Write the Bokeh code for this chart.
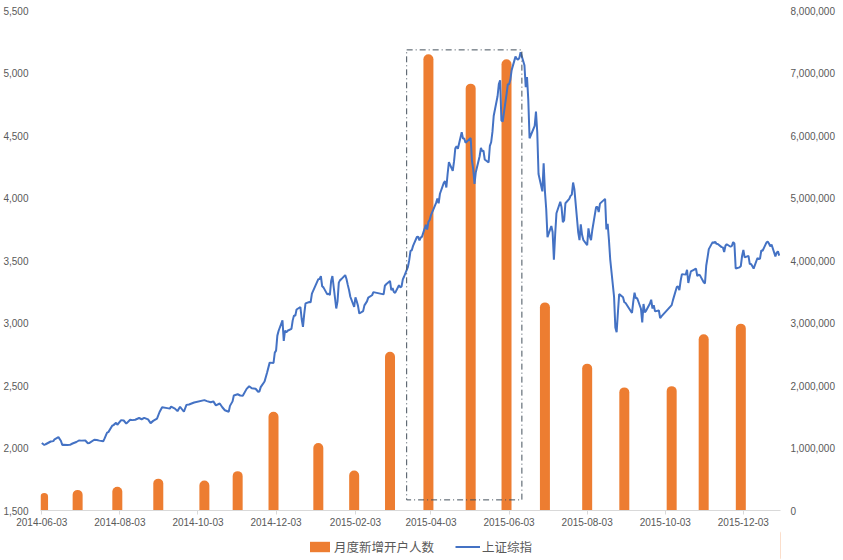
import datetime as dt
import pandas as pd
from bokeh.plotting import figure
from bokeh.layouts import column
from bokeh.models import (ColumnDataSource, Range1d, LinearAxis, NumeralTickFormatter,
                          FixedTicker, DatetimeTickFormatter, BoxAnnotation, Legend, LegendItem)
from bokeh.embed import file_html
from bokeh.resources import INLINE

# ---------------- data ----------------
bar_dates = ["2014-06-04", "2014-07-01", "2014-08-01", "2014-09-02", "2014-10-08", "2014-11-03",
             "2014-12-01", "2015-01-05", "2015-02-02", "2015-03-02", "2015-04-01", "2015-05-04",
             "2015-06-01", "2015-07-01", "2015-08-03", "2015-09-01", "2015-10-08", "2015-11-02",
             "2015-12-01"]
new_accounts = [280000, 330000, 380000, 510000, 480000, 630000,
                1580000, 1080000, 640000, 2540000, 7300000, 6830000,
                7220000, 3330000, 2350000, 1970000, 1990000, 2820000,
                2990000]

sse_dates = [
    "2014-06-03", "2014-06-05", "2014-06-06", "2014-06-10", "2014-06-12", "2014-06-13", "2014-06-16",
    "2014-06-18", "2014-06-19", "2014-06-20", "2014-06-23", "2014-06-25", "2014-06-27", "2014-06-30",
    "2014-07-02", "2014-07-04", "2014-07-07", "2014-07-09", "2014-07-10", "2014-07-14", "2014-07-16",
    "2014-07-18", "2014-07-21", "2014-07-22", "2014-07-24", "2014-07-25", "2014-07-28", "2014-07-29",
    "2014-07-31", "2014-08-01", "2014-08-04", "2014-08-06", "2014-08-08", "2014-08-11", "2014-08-13",
    "2014-08-15", "2014-08-18", "2014-08-20", "2014-08-22", "2014-08-25", "2014-08-27", "2014-08-29",
    "2014-09-01", "2014-09-03", "2014-09-05", "2014-09-09", "2014-09-11", "2014-09-12", "2014-09-15",
    "2014-09-17", "2014-09-19", "2014-09-22", "2014-09-24", "2014-09-26", "2014-09-30",
    "2014-10-08", "2014-10-10", "2014-10-13", "2014-10-15", "2014-10-17", "2014-10-20", "2014-10-22",
    "2014-10-24", "2014-10-27", "2014-10-28", "2014-10-30", "2014-10-31",
    "2014-11-03", "2014-11-05", "2014-11-07", "2014-11-10", "2014-11-12", "2014-11-14", "2014-11-17",
    "2014-11-19", "2014-11-20", "2014-11-21", "2014-11-24", "2014-11-26", "2014-11-28",
    "2014-12-01", "2014-12-02", "2014-12-03", "2014-12-04", "2014-12-05", "2014-12-08", "2014-12-09",
    "2014-12-10", "2014-12-11", "2014-12-12", "2014-12-15", "2014-12-16", "2014-12-17", "2014-12-18",
    "2014-12-19", "2014-12-22", "2014-12-23", "2014-12-24", "2014-12-25", "2014-12-26", "2014-12-29",
    "2014-12-30", "2014-12-31",
    "2015-01-05", "2015-01-06", "2015-01-07", "2015-01-08", "2015-01-09", "2015-01-12", "2015-01-13",
    "2015-01-14", "2015-01-15", "2015-01-16", "2015-01-19", "2015-01-20", "2015-01-21", "2015-01-22",
    "2015-01-23", "2015-01-26", "2015-01-27", "2015-01-28", "2015-01-29", "2015-01-30",
    "2015-02-02", "2015-02-03", "2015-02-04", "2015-02-05", "2015-02-06", "2015-02-09", "2015-02-10",
    "2015-02-11", "2015-02-12", "2015-02-13", "2015-02-16", "2015-02-17", "2015-02-25", "2015-02-26",
    "2015-02-27",
    "2015-03-02", "2015-03-03", "2015-03-04", "2015-03-05", "2015-03-06", "2015-03-09", "2015-03-10",
    "2015-03-11", "2015-03-12", "2015-03-13", "2015-03-16", "2015-03-17", "2015-03-18", "2015-03-19",
    "2015-03-20", "2015-03-23", "2015-03-24", "2015-03-25", "2015-03-26", "2015-03-27", "2015-03-30",
    "2015-03-31",
    "2015-04-01", "2015-04-02", "2015-04-03", "2015-04-07", "2015-04-08", "2015-04-09", "2015-04-10",
    "2015-04-13", "2015-04-14", "2015-04-15", "2015-04-16", "2015-04-17", "2015-04-20", "2015-04-21",
    "2015-04-22", "2015-04-23", "2015-04-24", "2015-04-27", "2015-04-28", "2015-04-29", "2015-04-30",
    "2015-05-04", "2015-05-05", "2015-05-06", "2015-05-07", "2015-05-08", "2015-05-11", "2015-05-12",
    "2015-05-13", "2015-05-14", "2015-05-15", "2015-05-18", "2015-05-19", "2015-05-20", "2015-05-21",
    "2015-05-22", "2015-05-25", "2015-05-26", "2015-05-27", "2015-05-28", "2015-05-29",
    "2015-06-01", "2015-06-02", "2015-06-03", "2015-06-04", "2015-06-05", "2015-06-08", "2015-06-09",
    "2015-06-10", "2015-06-11", "2015-06-12", "2015-06-15", "2015-06-16", "2015-06-17", "2015-06-18",
    "2015-06-19", "2015-06-23", "2015-06-24", "2015-06-25", "2015-06-26", "2015-06-29", "2015-06-30",
    "2015-07-01", "2015-07-02", "2015-07-03", "2015-07-06", "2015-07-07", "2015-07-08", "2015-07-09",
    "2015-07-10", "2015-07-13", "2015-07-14", "2015-07-15", "2015-07-16", "2015-07-17", "2015-07-20",
    "2015-07-21", "2015-07-22", "2015-07-23", "2015-07-24", "2015-07-27", "2015-07-28", "2015-07-29",
    "2015-07-30", "2015-07-31",
    "2015-08-03", "2015-08-04", "2015-08-05", "2015-08-06", "2015-08-07", "2015-08-10", "2015-08-11",
    "2015-08-12", "2015-08-13", "2015-08-14", "2015-08-17", "2015-08-18", "2015-08-19", "2015-08-20",
    "2015-08-21", "2015-08-24", "2015-08-25", "2015-08-26", "2015-08-27", "2015-08-28", "2015-08-31",
    "2015-09-01", "2015-09-02", "2015-09-07", "2015-09-08", "2015-09-09", "2015-09-10", "2015-09-11",
    "2015-09-14", "2015-09-15", "2015-09-16", "2015-09-17", "2015-09-18", "2015-09-21", "2015-09-22",
    "2015-09-23", "2015-09-24", "2015-09-25", "2015-09-28", "2015-09-29", "2015-09-30",
    "2015-10-08", "2015-10-09", "2015-10-12", "2015-10-13", "2015-10-14", "2015-10-15", "2015-10-16",
    "2015-10-19", "2015-10-20", "2015-10-21", "2015-10-22", "2015-10-23", "2015-10-26", "2015-10-27",
    "2015-10-28", "2015-10-29", "2015-10-30",
    "2015-11-02", "2015-11-03", "2015-11-04", "2015-11-05", "2015-11-06", "2015-11-09", "2015-11-10",
    "2015-11-11", "2015-11-12", "2015-11-13", "2015-11-16", "2015-11-17", "2015-11-18", "2015-11-19",
    "2015-11-20", "2015-11-23", "2015-11-24", "2015-11-25", "2015-11-26", "2015-11-27", "2015-11-30",
    "2015-12-01", "2015-12-02", "2015-12-03", "2015-12-04", "2015-12-07", "2015-12-08", "2015-12-09",
    "2015-12-10", "2015-12-11", "2015-12-14", "2015-12-15", "2015-12-16", "2015-12-17", "2015-12-18",
    "2015-12-21", "2015-12-22", "2015-12-23", "2015-12-24", "2015-12-25", "2015-12-28", "2015-12-29",
    "2015-12-30", "2015-12-31",
]
sse_close = [
    2040, 2024, 2030, 2052, 2055, 2070, 2087,
    2056, 2024, 2026, 2024, 2025, 2036, 2048,
    2060, 2059, 2060, 2038, 2039, 2066, 2064,
    2059, 2054, 2075, 2123, 2127, 2178, 2183,
    2201, 2186, 2223, 2220, 2195, 2226, 2223,
    2226, 2240, 2230, 2241, 2229, 2199, 2217,
    2235, 2288, 2326, 2319, 2315, 2331, 2315,
    2295, 2330, 2290, 2345, 2348, 2364,
    2383, 2375, 2366, 2373, 2341, 2356, 2326,
    2302, 2290, 2337, 2373, 2420,
    2430, 2420, 2418, 2473, 2494, 2478, 2474,
    2450, 2452, 2487, 2532, 2604, 2683,
    2680, 2763, 2779, 2899, 2938, 3021, 2856,
    2940, 2925, 2938, 2953, 3021, 3061, 3057,
    3108, 3128, 3032, 2969, 3073, 3157, 3168,
    3166, 3235,
    3351, 3352, 3374, 3294, 3285, 3229, 3236,
    3222, 3336, 3376, 3116, 3173, 3323, 3343,
    3351, 3383, 3352, 3305, 3263, 3210,
    3129, 3205, 3174, 3137, 3076, 3095, 3141,
    3157, 3173, 3203, 3222, 3247, 3229, 3298,
    3310,
    3336, 3263, 3280, 3248, 3241, 3302, 3286,
    3291, 3349, 3372, 3449, 3503, 3577, 3582,
    3617, 3688, 3691, 3661, 3683, 3691, 3786,
    3748,
    3810, 3825, 3863, 3961, 3995, 3958, 4034,
    4121, 4135, 4084, 4194, 4287, 4217, 4293,
    4398, 4414, 4394, 4527, 4476, 4476, 4442,
    4480, 4298, 4229, 4112, 4206, 4334, 4401,
    4375, 4378, 4308, 4284, 4417, 4446, 4529,
    4658, 4814, 4911, 4942, 4620, 4612,
    4829, 4910, 4910, 4947, 5023, 5131, 5114,
    5106, 5121, 5166, 5062, 4887, 4967, 4786,
    4478, 4577, 4691, 4528, 4192, 4053, 4277,
    4053, 3912, 3687, 3776, 3728, 3507, 3710,
    3878, 3970, 3925, 3806, 3823, 3958, 3993,
    4017, 4027, 4124, 4071, 3726, 3663, 3789,
    3706, 3664,
    3623, 3757, 3695, 3662, 3744, 3929, 3928,
    3887, 3955, 3965, 3993, 3749, 3794, 3664,
    3508, 3210, 2965, 2927, 3084, 3232, 3206,
    3166, 3160, 3080, 3171, 3243, 3197, 3200,
    3114, 3005, 3152, 3086, 3098, 3156, 3186,
    3116, 3143, 3093, 3100, 3039, 3053,
    3143, 3183, 3288, 3293, 3263, 3338, 3391,
    3387, 3426, 3320, 3369, 3413, 3430, 3434,
    3376, 3387, 3383,
    3326, 3317, 3460, 3523, 3591, 3647, 3640,
    3650, 3633, 3632, 3607, 3605, 3568, 3618,
    3630, 3610, 3616, 3647, 3636, 3436, 3445,
    3456, 3537, 3585, 3525, 3537, 3471, 3472,
    3455, 3435, 3520, 3511, 3516, 3580, 3578,
    3643, 3651, 3636, 3613, 3628, 3533, 3563,
    3573, 3539,
]
assert len(sse_dates) == len(sse_close)

x_tick_labels = ["2014-06-03", "2014-08-03", "2014-10-03", "2014-12-03", "2015-02-03",
                 "2015-04-03", "2015-06-03", "2015-08-03", "2015-10-03", "2015-12-03"]
left_ticks = [1500, 2000, 2500, 3000, 3500, 4000, 4500, 5000, 5500]
right_ticks = [0, 1000000, 2000000, 3000000, 4000000, 5000000, 6000000, 7000000, 8000000]
x_start, x_end = "2014-06-02", "2016-01-01"
highlight_start, highlight_end = "2015-03-15", "2015-06-13"
highlight_low, highlight_high = 1585, 5185

series_names = ["月度新增开户人数", "上证综指"]

# ---------------- helpers ----------------
def ms(s):
    return pd.Timestamp(s).value / 1e6

DAY = 86400000.0
BAR_COLOR = "#ED7D31"
LINE_COLOR = "#4472C4"
LABEL_FONT = "Liberation Sans"
LABEL_COLOR = "#595959"

bar_src = ColumnDataSource(dict(x=[pd.Timestamp(d) for d in bar_dates], top=new_accounts))
line_src = ColumnDataSource(dict(x=[pd.Timestamp(d) for d in sse_dates], y=sse_close))

p = figure(width=843, height=530, x_axis_type="datetime",
           x_range=Range1d(ms(x_start), ms(x_end)), y_range=Range1d(1500, 5500),
           output_backend="svg", toolbar_location=None,
           min_border_left=40, min_border_right=63, min_border_top=10, min_border_bottom=20)
p.extra_y_ranges = {"acct": Range1d(0, 8000000)}
p.grid.visible = False
p.outline_line_color = None
p.background_fill_color = "white"
p.border_fill_color = "white"

bars = p.vbar(x="x", top="top", bottom=0, width=7.8 * DAY, source=bar_src, y_range_name="acct",
              fill_color=BAR_COLOR, line_color=None, border_radius=(5, 5, 0, 0))
line = p.line(x="x", y="y", source=line_src, line_color=LINE_COLOR, line_width=2)

box = BoxAnnotation(left=ms(highlight_start), right=ms(highlight_end),
                    bottom=highlight_low, top=highlight_high,
                    fill_alpha=0, line_color="#44505c", line_alpha=1, line_width=1,
                    line_dash="6 3 1 3")
p.add_layout(box)

# x axis
xa = p.xaxis[0]
xa.ticker = FixedTicker(ticks=[ms(t) for t in x_tick_labels])
fmt = "%Y-%m-%d"
xa.formatter = DatetimeTickFormatter(microseconds=fmt, milliseconds=fmt, seconds=fmt, minsec=fmt,
                                     minutes=fmt, hourmin=fmt, hours=fmt, days=fmt, months=fmt, years=fmt)
xa.axis_line_color = "#d9d9d9"
xa.major_tick_line_color = "#d9d9d9"
xa.major_tick_out = 4
xa.major_tick_in = 0
xa.minor_tick_line_color = None
xa.major_label_standoff = 3
xa.major_label_text_font = LABEL_FONT
xa.major_label_text_font_size = "10px"
xa.major_label_text_color = LABEL_COLOR

# left axis
ya = p.yaxis[0]
ya.ticker = FixedTicker(ticks=left_ticks)
ya.formatter = NumeralTickFormatter(format="0,0")
ya.axis_line_color = None
ya.major_tick_line_color = None
ya.minor_tick_line_color = None
ya.major_tick_out = 0
ya.major_label_standoff = 12
ya.major_label_text_font = LABEL_FONT
ya.major_label_text_font_size = "10px"
ya.major_label_text_color = LABEL_COLOR

# right axis
ra = LinearAxis(y_range_name="acct", ticker=FixedTicker(ticks=right_ticks),
                formatter=NumeralTickFormatter(format="0,0"))
ra.axis_line_color = None
ra.major_tick_line_color = None
ra.minor_tick_line_color = None
ra.major_tick_out = 0
ra.major_label_standoff = 10
ra.major_label_text_font = LABEL_FONT
ra.major_label_text_font_size = "10px"
ra.major_label_text_color = LABEL_COLOR
p.add_layout(ra, "right")

# ---------------- legend strip ----------------
lf = figure(width=843, height=30, x_range=Range1d(0, 1), y_range=Range1d(0, 1),
            output_backend="svg", toolbar_location=None,
            min_border=0, min_border_left=0, min_border_right=0, min_border_top=0, min_border_bottom=0)
lf.axis.visible = False
lf.grid.visible = False
lf.outline_line_color = None
lf.background_fill_color = "white"
lf.border_fill_color = "white"
# legend keys: renderers placed outside the visible range, only their legend swatches show
key_bar = lf.vbar(x=[5.0], top=[1.0], width=0.1, fill_color=BAR_COLOR, line_color=None,
                  border_radius=3)
key_line = lf.line(x=[5.0, 6.0], y=[0.5, 0.5], line_color=LINE_COLOR, line_width=2)

legend = Legend(items=[LegendItem(label=series_names[0], renderers=[key_bar]),
                       LegendItem(label=series_names[1], renderers=[key_line])],
                orientation="horizontal", location=(267, 4),
                label_text_font="Noto Sans CJK SC", label_text_font_size="12.5px",
                label_text_color=LABEL_COLOR, border_line_color=None, background_fill_alpha=0,
                glyph_width=25, glyph_height=13, spacing=21, padding=0, margin=0,
                label_standoff=2)
lf.add_layout(legend)

open("out.html", "w").write(file_html(column(p, lf, spacing=0), INLINE))
